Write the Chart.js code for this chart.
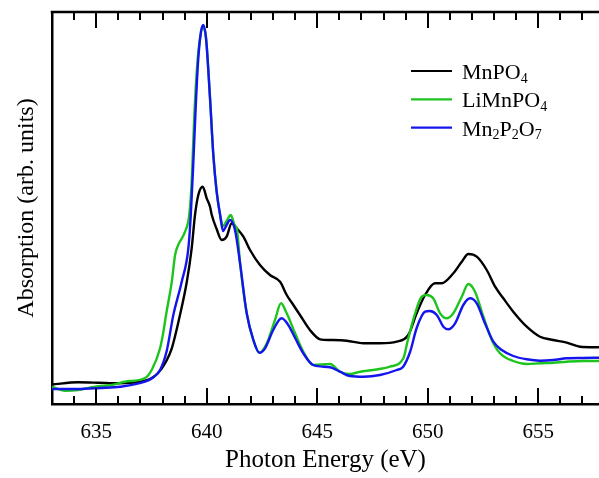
<!DOCTYPE html>
<html>
<head>
<meta charset="utf-8">
<script src="https://cdn.jsdelivr.net/npm/chart.js@4/dist/chart.umd.min.js"></script>
<style>
html,body{margin:0;padding:0;background:#fff;}
canvas{display:block;}
</style>
</head>
<body>
<canvas id="c" width="599" height="478"></canvas>
<script>
// ---- data ----
const seriesLabels = ['MnPO\u2084', 'LiMnPO\u2084', 'Mn\u2082P\u2082O\u2087'];
const seriesColors = ['#000000', '#1ec41e', '#1414ee'];

const energyMnPO4 = [633.0,634.18,635.08,635.99,637.21,637.80,638.15,638.42,638.79,639.10,639.32,639.47,639.62,639.82,640.00,640.15,640.23,640.45,640.68,640.90,641.13,641.36,641.66,641.96,642.41,642.86,643.32,643.62,643.92,644.22,644.67,645.13,645.58,646.33,647.09,647.84,648.60,649.12,649.50,649.88,650.33,650.63,651.16,651.54,651.84,652.22,652.67,653.05,653.42,653.87,654.48,655.08,655.68,656.29,656.89,657.75];
const absMnPO4 = [0.195,0.217,0.213,0.207,0.233,0.31,0.42,0.557,0.89,1.223,1.557,1.89,2.09,2.173,2.057,1.973,1.89,1.75,1.64,1.673,1.807,1.757,1.673,1.54,1.39,1.29,1.223,1.09,0.99,0.89,0.74,0.647,0.64,0.633,0.607,0.607,0.623,0.69,0.907,1.09,1.207,1.207,1.307,1.423,1.50,1.473,1.34,1.173,1.057,0.923,0.773,0.673,0.64,0.613,0.573,0.567];

const energyLiMnPO4 = [633.0,633.59,634.18,634.95,635.71,636.30,637.21,637.51,637.89,638.04,638.16,638.42,638.57,638.71,639.02,639.21,639.32,639.44,639.57,639.70,639.82,639.97,640.15,640.30,640.45,640.60,640.74,640.90,641.09,641.28,641.36,641.51,641.81,642.11,642.38,642.72,643.09,643.36,643.62,644.00,644.37,644.82,645.58,646.03,646.48,646.94,647.54,648.29,648.90,649.08,649.43,649.73,649.95,650.25,650.56,650.86,651.16,651.54,651.84,652.14,652.52,652.90,653.27,653.87,654.48,655.08,655.68,656.29,657.04,657.75];
const absLiMnPO4 = [0.173,0.133,0.14,0.173,0.19,0.223,0.26,0.34,0.557,0.723,0.89,1.223,1.49,1.59,1.723,1.89,2.223,2.89,3.39,3.657,3.76,3.657,3.057,2.49,2.123,1.90,1.78,1.83,1.89,1.78,1.76,1.407,0.907,0.64,0.513,0.607,0.84,1.007,0.907,0.707,0.523,0.39,0.40,0.323,0.30,0.323,0.34,0.373,0.457,0.62,0.907,1.073,1.09,1.057,0.907,0.857,0.907,1.073,1.20,1.123,0.873,0.64,0.507,0.43,0.40,0.407,0.413,0.423,0.43,0.43];

const energyMn2P2O7 = [633.0,634.18,635.17,636.08,637.21,637.58,637.89,638.19,638.49,638.87,639.17,639.28,639.39,639.52,639.62,639.74,639.85,639.97,640.15,640.30,640.45,640.60,640.74,640.90,641.06,641.28,641.51,641.81,642.11,642.38,642.64,643.01,643.39,643.69,644.00,644.37,644.82,645.58,646.03,646.48,647.09,647.84,648.60,648.88,649.20,649.50,649.88,650.10,650.41,650.71,650.93,651.24,651.61,651.91,652.22,652.59,652.97,653.35,653.87,654.48,655.08,655.68,656.29,657.04,657.75];
const absMn2P2O7 = [0.15,0.15,0.16,0.173,0.223,0.265,0.34,0.53,0.89,1.223,1.557,1.89,2.39,3.057,3.457,3.723,3.79,3.657,3.057,2.49,2.123,1.90,1.73,1.79,1.84,1.74,1.407,0.907,0.64,0.513,0.557,0.74,0.857,0.79,0.66,0.507,0.39,0.367,0.323,0.28,0.273,0.29,0.34,0.37,0.52,0.76,0.923,0.93,0.89,0.773,0.747,0.807,0.99,1.057,1.007,0.807,0.623,0.54,0.48,0.447,0.433,0.44,0.457,0.46,0.463];

const xMajorTicks = [635, 640, 645, 650, 655];
const xMinorTicks = [634, 636, 637, 638, 639, 641, 642, 643, 644, 646, 647, 648, 649, 651, 652, 653, 654, 656, 657];
const xTitle = 'Photon Energy (eV)';
const yTitle = 'Absorption (arb. units)';

// ---- build ----
const FONT = "'Liberation Serif', 'Times New Roman', serif";
function pts(xs, ys) { return xs.map((x, i) => ({x: x, y: ys[i]})); }

const framePlugin = {
  id: 'frame',
  afterDraw(chart) {
    const {ctx, chartArea: a, scales: {x}} = chart;
    ctx.save();
    ctx.strokeStyle = '#000';
    ctx.lineWidth = 2.5;
    ctx.beginPath();
    ctx.moveTo(a.left - 1.25, a.top);
    ctx.lineTo(a.right, a.top);
    ctx.stroke();
    ctx.lineWidth = 2;
    const tick = (v, len) => {
      const px = Math.round(x.getPixelForValue(v));
      ctx.beginPath();
      ctx.moveTo(px, a.top); ctx.lineTo(px, a.top + len);
      ctx.moveTo(px, a.bottom); ctx.lineTo(px, a.bottom - len);
      ctx.stroke();
    };
    xMajorTicks.forEach(v => tick(v, 16));
    xMinorTicks.forEach(v => tick(v, 8));
    ctx.restore();
  }
};

const subMap = {'\u2080':'0','\u2081':'1','\u2082':'2','\u2083':'3','\u2084':'4','\u2085':'5','\u2086':'6','\u2087':'7','\u2088':'8','\u2089':'9'};
const legendPlugin = {
  id: 'subLegend',
  afterDraw(chart) {
    const ctx = chart.ctx;
    ctx.save();
    chart.data.datasets.forEach((ds, i) => {
      const ly = 71 + i * 28.3;
      ctx.strokeStyle = ds.borderColor;
      ctx.lineWidth = 2.2;
      ctx.beginPath();
      ctx.moveTo(411, ly); ctx.lineTo(452, ly);
      ctx.stroke();
      let tx = 462;
      const base = ly + 8;
      ctx.fillStyle = '#000';
      ctx.textBaseline = 'alphabetic';
      ctx.textAlign = 'left';
      for (const ch of ds.label) {
        if (subMap[ch]) {
          ctx.font = '14px ' + FONT;
          ctx.fillText(subMap[ch], tx, base + 3.5);
          tx += ctx.measureText(subMap[ch]).width;
        } else {
          ctx.font = '22px ' + FONT;
          ctx.fillText(ch, tx, base);
          tx += ctx.measureText(ch).width;
        }
      }
    });
    ctx.restore();
  }
};

const datasets = [
  {label: seriesLabels[0], data: pts(energyMnPO4, absMnPO4), borderColor: seriesColors[0], order: 2},
  {label: seriesLabels[1], data: pts(energyLiMnPO4, absLiMnPO4), borderColor: seriesColors[1], order: 1},
  {label: seriesLabels[2], data: pts(energyMn2P2O7, absMn2P2O7), borderColor: seriesColors[2], order: 0}
].map(d => Object.assign(d, {borderWidth: 2.4, pointRadius: 0, fill: false, cubicInterpolationMode: 'monotone'}));

new Chart(document.getElementById('c'), {
  type: 'line',
  data: {datasets: datasets},
  options: {
    responsive: false,
    animation: false,
    layout: {padding: {top: 12, right: 0, left: 0, bottom: 0}},
    plugins: {legend: {display: false}, tooltip: {enabled: false}},
    scales: {
      x: {
        type: 'linear', min: 633, max: 657.75,
        afterBuildTicks: s => { s.ticks = xMajorTicks.map(v => ({value: v})); },
        afterFit: s => { s.height = 74; },
        grid: {display: false},
        border: {display: true, color: '#000', width: 2.5},
        ticks: {font: {family: FONT, size: 21}, color: '#000', padding: 8, maxRotation: 0, autoSkip: false},
        title: {display: true, text: xTitle, font: {family: FONT, size: 25}, color: '#000', padding: {top: 0, bottom: 3}}
      },
      y: {
        min: 0, max: 3.92,
        afterFit: s => { s.width = 52; },
        grid: {display: false},
        ticks: {display: false},
        border: {display: true, color: '#000', width: 2.5},
        title: {display: true, text: yTitle, font: {family: FONT, size: 24}, color: '#000', padding: {top: 12, bottom: 0}}
      }
    }
  },
  plugins: [framePlugin, legendPlugin]
});
</script>
</body>
</html>
